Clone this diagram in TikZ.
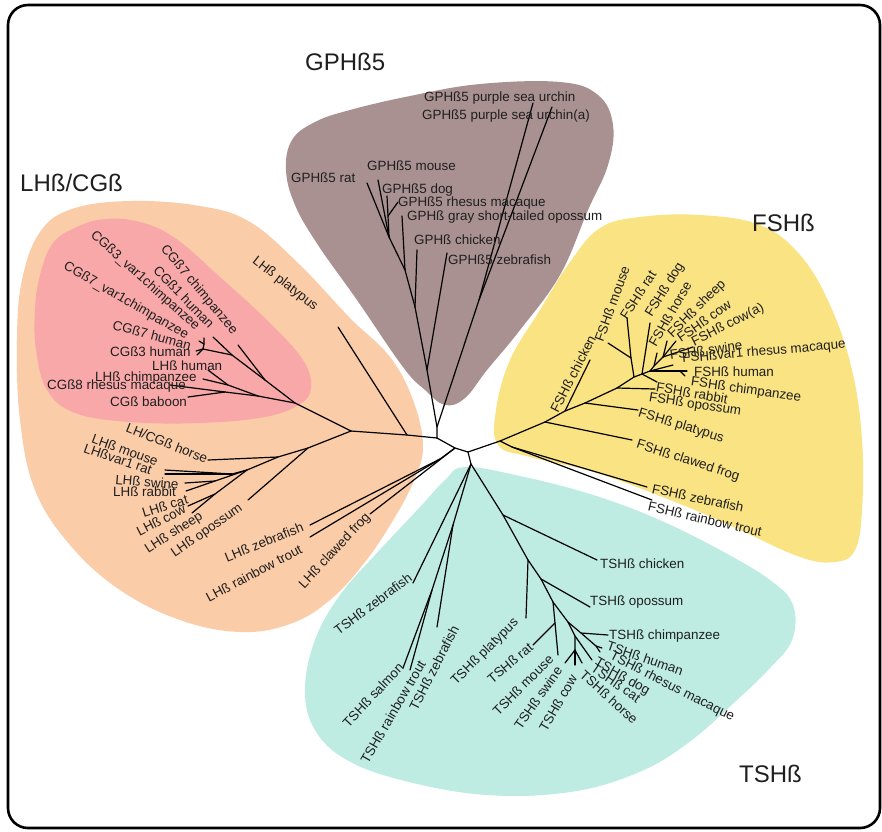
\documentclass[tikz,border=0pt]{standalone}
\usepackage{fontspec}
\setmainfont{Liberation Sans}
\definecolor{cBrown}{RGB}{169,145,145}
\definecolor{cYellow}{RGB}{250,227,130}
\definecolor{cOrange}{RGB}{251,204,168}
\definecolor{cPink}{RGB}{248,168,168}
\definecolor{cCyan}{RGB}{190,236,226}
\begin{document}
\begin{tikzpicture}[x=1pt,y=-1pt,
  br/.style={line width=1.2pt, black, line cap=round, line join=round},
  lab/.style={font=\fontsize{13.4}{15}\selectfont, inner sep=0pt, text=black!88},
  hl/.style={lab, anchor=base west},
  ttl/.style={font=\fontsize{24}{28}\selectfont, inner sep=0pt, anchor=base west, text=black!88}]
\useasboundingbox (0,0) rectangle (882,831);
\fill[white] (0,0) rectangle (882,831);

% ---------- blobs ----------
\fill[cOrange] plot[smooth cycle, tension=0.65] coordinates {
 (22,280) (40,232) (72,209) (130,201) (200,206) (250,222) (300,265) (350,318)
 (390,357) (413,400) (423,445) (415,478) (395,517) (365,562) (330,600)
 (290,624) (240,632) (180,620) (120,590) (70,545) (35,490) (20,420) (17,340)};
\fill[cPink] plot[smooth cycle, tension=0.65] coordinates {
 (40,275) (53,243) (77,227) (105,219) (140,222) (175,238) (220,277) (270,323)
 (303,360) (311,387) (300,404) (265,417) (200,423) (130,422) (75,413) (47,390)
 (36,350) (35,310)};
\fill[cBrown] plot[smooth cycle, tension=0.65] coordinates {
 (286,170) (292,140) (315,122) (350,110) (410,96) (480,84) (560,82) (598,95)
 (613,125) (608,165) (588,210) (560,275) (520,330) (487,370) (465,398)
 (445,405) (425,390) (403,367) (357,300) (318,245) (295,205)};
\fill[cYellow] plot[smooth cycle, tension=0.65] coordinates {
 (600,228) (640,217) (700,215) (760,225) (800,255) (830,305) (852,370)
 (862,440) (862,510) (855,550) (835,562) (800,557) (740,530) (690,508)
 (600,474) (530,457) (498,445) (496,410) (510,360) (540,310) (570,262)};
\fill[cCyan] plot[smooth cycle, tension=0.65] coordinates {
 (465,467) (520,476) (590,494) (655,518) (720,550) (770,580) (793,605)
 (792,640) (770,668) (737,700) (688,743) (637,773) (570,792) (487,795)
 (405,781) (347,760) (315,730) (305,690) (315,640) (340,595) (375,555)
 (420,507) (445,480)};

% ---------- frame ----------
\draw[line width=2.6pt, black, rounded corners=20pt] (8,5) rectangle (880,828);

% ---------- titles ----------
\node[ttl] (tGPH) at (305,70) {GPHß5};
\node[ttl] (tLH) at (20,191) {LHß/CGß};
\node[ttl] (tFSH) at (752,231) {FSHß};
\node[ttl] (tTSH) at (739,782) {TSHß};

% ---------- tree coordinates ----------
\coordinate (A) at (437,438);
\coordinate (B) at (455,448);
\coordinate (C) at (468,452);
% GPH
\coordinate (G0) at (437,427);
\coordinate (U) at (479,300);
\coordinate (tUa) at (533,103);
\coordinate (tUb) at (552,107);
\coordinate (G1) at (427,370);
\coordinate (tGz) at (447,253);
\coordinate (G2) at (415,307);
\coordinate (tGc) at (417,250);
\coordinate (G3) at (405,270);
\coordinate (tGo) at (402,216);
\coordinate (G4) at (389,237);
\coordinate (tGr) at (367,183);
\coordinate (tGm) at (378,180);
\coordinate (G6) at (388,216);
\coordinate (tGd) at (387,196);
\coordinate (tGh) at (398,202);
% LH / CG
\coordinate (Np) at (407,435);
\coordinate (tLp) at (338,327);
\coordinate (N1) at (351,431);
\coordinate (P0) at (295,403);
\coordinate (P1) at (265,380);
\coordinate (tC7c) at (238,345);
\coordinate (P2) at (232,355);
\coordinate (tC1) at (213,337);
\coordinate (Y0) at (203,349);
\coordinate (Y1) at (204,344);
\coordinate (tY1) at (204,338);
\coordinate (tY2) at (199,341);
\coordinate (tY3) at (196,351);
\coordinate (tY4) at (197,355);
\coordinate (Q0) at (258,396);
\coordinate (Q1) at (228,385);
\coordinate (tLh) at (208,370);
\coordinate (tLc) at (203,379);
\coordinate (Q2) at (225,392);
\coordinate (tC8) at (170,385);
\coordinate (tCb) at (188,397);
\coordinate (N2) at (308,448);
\coordinate (tLo) at (248,500);
\coordinate (N3) at (278,457);
\coordinate (tLH) at (208,460);
\coordinate (N4) at (247,470);
\coordinate (M) at (232,474);
\coordinate (tLm) at (165,470);
\coordinate (tLr) at (165,474);
\coordinate (N5) at (215,481);
\coordinate (tLs) at (185,483);
\coordinate (tLra) at (186,491);
\coordinate (N6) at (215,494);
\coordinate (tLca) at (188,506);
\coordinate (tLco) at (192,513);
\coordinate (FZ) at (440,459);
\coordinate (tLz) at (310,525);
\coordinate (tLt) at (310,537);
\coordinate (tLf) at (370,514);
% FSH
\coordinate (F0) at (500,441);
\coordinate (F1) at (545,422);
\coordinate (tFf) at (632,440);
\coordinate (Fz) at (512,447);
\coordinate (tFz) at (647,487);
\coordinate (tFt) at (652,500);
\coordinate (F2) at (565,411);
\coordinate (tFc) at (590,360);
\coordinate (F3) at (585,403);
\coordinate (tFp) at (638,410);
\coordinate (F4) at (617,388);
\coordinate (tFra) at (655,389);
\coordinate (F5) at (634,377);
\coordinate (Fr) at (631,358);
\coordinate (tFr) at (627,318);
\coordinate (tFm) at (608,343);
\coordinate (F6) at (642,374);
\coordinate (tFd) at (650,323);
\coordinate (tFx) at (657,382);
\coordinate (F7b) at (650,371);
\coordinate (tFv) at (673,365);
\coordinate (tFh) at (687,371);
\coordinate (Fch) at (680,371);
\coordinate (tFch) at (685,376);
\coordinate (F7) at (654,366);
\coordinate (tFho) at (657,353);
\coordinate (F8) at (663,357);
\coordinate (tFsh) at (667,341);
\coordinate (tFco) at (676,341);
\coordinate (tFsw) at (693,347);
% TSH
\coordinate (T0) at (471,464);
\coordinate (tTz1) at (413,583);
\coordinate (Tf1) at (453,525);
\coordinate (Tf2) at (432,590);
\coordinate (tTs) at (403,668);
\coordinate (tTt) at (410,670);
\coordinate (tTz2) at (437,627);
\coordinate (T1) at (503,515);
\coordinate (tTc) at (597,560);
\coordinate (T2) at (528,560);
\coordinate (tTp) at (526,618);
\coordinate (T3) at (541,579);
\coordinate (tTo) at (590,607);
\coordinate (T4) at (553,602);
\coordinate (Tm) at (555,623);
\coordinate (tTm) at (558,655);
\coordinate (tTr) at (533,645);
\coordinate (T5) at (568,622);
\coordinate (T6) at (581,633);
\coordinate (tTch) at (608,635);
\coordinate (Thh) at (596,646);
\coordinate (tThu) at (602,648);
\coordinate (tTrh) at (600,652);
\coordinate (Tc0) at (575,636);
\coordinate (tTd) at (592,660);
\coordinate (Tc) at (575,650);
\coordinate (tTsw) at (565,663);
\coordinate (tTco) at (575,665);
\coordinate (tTho) at (582,663);

% ---------- branches ----------
\draw[br] (A) -- (B) -- (C);
% GPH
\draw[br] (A) -- (G0) -- (G1) -- (G2) -- (G3) -- (G4) -- (tGr);
\draw[br] (G0) -- (U) -- (tUa);
\draw[br] (U) -- (tUb);
\draw[br] (G1) -- (tGz);
\draw[br] (G2) -- (tGc);
\draw[br] (G3) -- (tGo);
\draw[br] (G4) -- (tGm);
\draw[br] (G4) -- (G6) -- (tGd);
\draw[br] (G6) -- (tGh);
% LH / CG
\draw[br] (A) -- (Np) -- (N1);
\draw[br] (Np) -- (tLp);
\draw[br] (N1) -- (P0) -- (P1) -- (tC7c);
\draw[br] (P1) -- (P2) -- (tC1);
\draw[br] (P2) -- (Y0) -- (tY3);
\draw[br] (Y0) -- (tY4);
\draw[br] (Y0) -- (Y1) -- (tY1);
\draw[br] (Y1) -- (tY2);
\draw[br] (P0) -- (Q0) -- (Q1) -- (tLh);
\draw[br] (Q1) -- (tLc);
\draw[br] (Q0) -- (Q2) -- (tC8);
\draw[br] (Q2) -- (tCb);
\draw[br] (N1) -- (N2) -- (tLo);
\draw[br] (N2) -- (N3) -- (tLH);
\draw[br] (N3) -- (N4) -- (M) -- (tLm);
\draw[br] (M) -- (tLr);
\draw[br] (N4) -- (N5) -- (tLs);
\draw[br] (N5) -- (tLra);
\draw[br] (N4) -- (N6) -- (tLca);
\draw[br] (N6) -- (tLco);
\draw[br] (B) -- (FZ) -- (tLz);
\draw[br] (FZ) -- (tLt);
\draw[br] (B) -- (tLf);
% FSH
\draw[br] (C) -- (F0) -- (F1) -- (tFf);
\draw[br] (F0) -- (Fz) -- (tFz);
\draw[br] (Fz) -- (tFt);
\draw[br] (F1) -- (F2) -- (tFc);
\draw[br] (F2) -- (F3) -- (tFp);
\draw[br] (F3) -- (F4) -- (tFra);
\draw[br] (F4) -- (F5) -- (Fr) -- (tFr);
\draw[br] (Fr) -- (tFm);
\draw[br] (F5) -- (F6) -- (tFd);
\draw[br] (F6) -- (tFx);
\draw[br] (F6) -- (F7b) -- (tFv);
\draw[br] (F7b) -- (tFh);
\draw[br] (Fch) -- (tFch);
\draw[br] (F7b) -- (F7) -- (tFho);
\draw[br] (F7) -- (F8) -- (tFsh);
\draw[br] (F8) -- (tFco);
\draw[br] (F8) -- (tFsw);
% TSH
\draw[br] (C) -- (T0) -- (tTz1);
\draw[br] (T0) -- (Tf1) -- (Tf2) -- (tTs);
\draw[br] (Tf2) -- (tTt);
\draw[br] (Tf1) -- (tTz2);
\draw[br] (T0) -- (T1) -- (tTc);
\draw[br] (T1) -- (T2) -- (tTp);
\draw[br] (T2) -- (T3) -- (tTo);
\draw[br] (T3) -- (T4) -- (Tm) -- (tTm);
\draw[br] (Tm) -- (tTr);
\draw[br] (T4) -- (T5) -- (T6) -- (tTch);
\draw[br] (T6) -- (Thh) -- (tThu);
\draw[br] (Thh) -- (tTrh);
\draw[br] (T5) -- (Tc0) -- (tTd);
\draw[br] (Tc0) -- (Tc) -- (tTsw);
\draw[br] (Tc) -- (tTco);
\draw[br] (Tc) -- (tTho);

% ---------- labels: GPH ----------
\node[hl] (lUa) at (424,101) {GPHß5 purple sea urchin};
\node[hl] (lUb) at (422,119) {GPHß5 purple sea urchin(a)};
\node[hl] (lGm) at (367,170) {GPHß5 mouse};
\node[hl] (lGr) at (291,182) {GPHß5 rat};
\node[hl] (lGd) at (382,193) {GPHß5 dog};
\node[hl] (lGh) at (398,206) {GPHß5 rhesus macaque};
\node[hl] (lGo) at (407,220) {GPHß gray short-tailed opossum};
\node[hl] (lGc) at (414,244) {GPHß chicken};
\node[hl] (lGz) at (448,264) {GPHß5 zebrafish};

% ---------- labels: LH / CG ----------
\node[lab, rotate=-50] (lC7c) at (199,290) {CGß7 chimpanzee};
\node[lab, rotate=-46] (lC1) at (184,297) {CGß1 human};
\node[lab, rotate=-42] (lC3v) at (145,281) {CGß3\_var1chimpanzee};
\node[lab, rotate=-30] (lC7v) at (126,301) {CGß7\_var1chimpanzee};
\node[lab, rotate=-15] (lC7h) at (152,335) {CGß7 human};
\node[hl] (lC3h) at (110,356) {CGß3 human};
\node[hl] (lLh) at (152,370) {LHß human};
\node[hl] (lLc) at (95,381) {LHß chimpanzee};
\node[hl] (lC8) at (47,389) {CGß8 rhesus macaque};
\node[hl] (lCb) at (110,406) {CGß baboon};
\node[lab, rotate=-38] (lLp) at (285,284) {LHß platypus};
\node[lab, rotate=-22] (lLH) at (167,443) {LH/CGß horse};
\node[lab, rotate=-20] (lLm) at (125,450) {LHß mouse};
\node[lab, rotate=-19] (lLr) at (118,459) {LHßvar1 rat};
\node[lab, rotate=-5] (lLs) at (147,482) {LHß swine};
\node[hl] (lLra) at (113,496) {LHß rabbit};
\node[lab, rotate=17] (lLca) at (165,506) {LHß cat};
\node[lab, rotate=27] (lLco) at (161,520) {LHß cow};
\node[lab, rotate=33] (lLsh) at (174,533) {LHß sheep};
\node[lab, rotate=35] (lLo) at (207,531) {LHß opossum};
\node[lab, rotate=22] (lLz) at (264,542) {LHß zebrafish};
\node[lab, rotate=28] (lLt) at (254,573) {LHß rainbow trout};
\node[lab, rotate=47] (lLf) at (335,551) {LHß clawed frog};

% ---------- labels: FSH ----------
\node[lab, rotate=63] (lFc) at (573,374) {FSHß chicken};
\node[lab, rotate=70] (lFm) at (612,304) {FSHß mouse};
\node[lab, rotate=57] (lFr) at (638,295) {FSHß rat};
\node[lab, rotate=58] (lFd) at (665,290) {FSHß dog};
\node[lab, rotate=60] (lFho) at (670,314) {FSHß horse};
\node[lab, rotate=45] (lFsh) at (697,309) {FSHß sheep};
\node[lab, rotate=35] (lFco) at (704,321) {FSHß cow};
\node[lab, rotate=27] (lFcoa) at (728,325) {FSHß cow(a)};
\node[lab, rotate=8] (lFsw) at (706,350) {FSHß swine};
\node[lab, rotate=5] (lFv) at (764,352) {FSHßvar1 rhesus macaque};
\node[lab] (lFh) at (734,372) {FSHß human};
\node[lab, rotate=-8] (lFch) at (746,390) {FSHß chimpanzee};
\node[lab, rotate=-10] (lFra) at (692,393) {FSHß rabbit};
\node[lab, rotate=-9] (lFo) at (695,405) {FSHß opossum};
\node[lab, rotate=-17] (lFp) at (681,426) {FSHß platypus};
\node[lab, rotate=-18] (lFf) at (688,461) {FSHß clawed frog};
\node[lab, rotate=-12] (lFz) at (698,498) {FSHß zebrafish};
\node[lab, rotate=-13] (lFt) at (705,519) {FSHß rainbow trout};

% ---------- labels: TSH ----------
\node[hl] (lTc) at (600,568) {TSHß chicken};
\node[hl] (lTo) at (590,605) {TSHß opossum};
\node[hl] (lTch) at (609,639) {TSHß chimpanzee};
\node[lab, rotate=-19] (lThu) at (645,658) {TSHß human};
\node[lab, rotate=-27] (lTrh) at (672,687) {TSHß rhesus macaque};
\node[lab, rotate=-30] (lTd) at (622,677) {TSHß dog};
\node[lab, rotate=-35] (lTca) at (616,683) {TSHß cat};
\node[lab, rotate=-42] (lTho) at (609,697) {TSHß horse};
\node[lab, rotate=60] (lTco) at (558,703) {TSHß cow};
\node[lab, rotate=55] (lTsw) at (538,698) {TSHß swine};
\node[lab, rotate=45] (lTm) at (523,685) {TSHß mouse};
\node[lab, rotate=40] (lTr) at (510,663) {TSHß rat};
\node[lab, rotate=45] (lTp) at (485,652) {TSHß platypus};
\node[lab, rotate=63] (lTz2) at (434,668) {TSHß zebrafish};
\node[lab, rotate=60] (lTt) at (393,712) {TSHß rainbow trout};
\node[lab, rotate=47] (lTs) at (373,695) {TSHß salmon};
\node[lab, rotate=37] (lTz1) at (373,604) {TSHß zebrafish};
\end{tikzpicture}
\end{document}
